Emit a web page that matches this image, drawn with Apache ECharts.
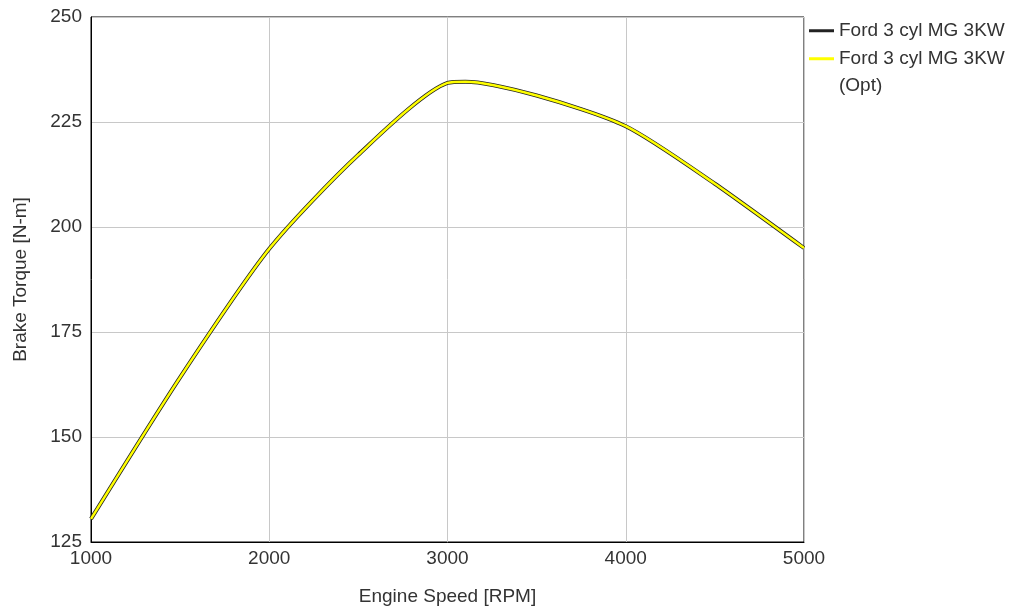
<!DOCTYPE html>
<html>
<head>
<meta charset="utf-8">
<script src="https://cdn.jsdelivr.net/npm/echarts@6/dist/echarts.min.js"></script>
<style>
  html, body { margin: 0; padding: 0; background: #fff; }
  #main { width: 1014px; height: 608px; }
</style>
</head>
<body>
<div id="main"></div>
<script>
// engine speed [RPM] and brake torque [N-m]
var speeds = [1000, 1500, 2000, 2500, 3000, 3100, 3500, 4000, 4500, 5000];
var torque = [130.5, 164.2, 194.8, 217.2, 234.3, 234.6, 231.3, 224.0, 210.3, 195.0];
var torqueOpt = [130.5, 164.2, 194.8, 217.2, 234.3, 234.6, 231.3, 224.0, 210.3, 195.0];

var seriesNames = ['Ford 3 cyl MG 3KW', 'Ford 3 cyl MG 3KW (Opt)'];

function pairs(xs, ys) {
  var out = [];
  for (var i = 0; i < xs.length; i++) out.push([xs[i], ys[i]]);
  return out;
}

var font = '"Liberation Sans", Arial, sans-serif';

var option = {
  animation: false,
  backgroundColor: '#fff',
  grid: {
    left: 91, top: 17, right: 210, bottom: 66,
    outerBoundsMode: 'none',
    show: true, borderColor: '#000', borderWidth: 1, backgroundColor: '#fff'
  },
  legend: {
    orient: 'vertical',
    left: 804,
    top: 12,
    itemWidth: 25,
    itemHeight: 3,
    itemGap: -27,
    icon: 'rect',
    textStyle: { fontFamily: font, fontSize: 19, color: '#333', lineHeight: 27.5 },
    data: seriesNames,
    formatter: function (name) {
      // blank first line so the icon sits level with the first text line
      return name === seriesNames[1] ? '\nFord 3 cyl MG 3KW\n(Opt)' : name;
    }
  },
  xAxis: {
    type: 'value',
    min: 1000, max: 5000, interval: 1000,
    name: 'Engine Speed [RPM]',
    nameLocation: 'middle',
    nameGap: 45,
    nameTextStyle: { fontFamily: font, fontSize: 19, color: '#333' },
    axisLine: { lineStyle: { color: '#000', width: 1 } },
    axisTick: { show: false },
    axisLabel: { fontFamily: font, fontSize: 19, color: '#333', margin: 7,
      formatter: function (v) { return String(v); } },
    splitLine: { show: true, lineStyle: { color: '#c8c8c8', width: 1 } }
  },
  yAxis: {
    type: 'value',
    min: 125, max: 250, interval: 25,
    name: 'Brake Torque [N-m]',
    nameLocation: 'middle',
    nameGap: 61,
    nameTextStyle: { fontFamily: font, fontSize: 19, color: '#333' },
    axisLine: { show: true, lineStyle: { color: '#000', width: 1 } },
    axisTick: { show: false },
    axisLabel: { fontFamily: font, fontSize: 19, color: '#333', margin: 9 },
    splitLine: { show: true, lineStyle: { color: '#c8c8c8', width: 1 } }
  },
  series: [
    {
      name: seriesNames[0],
      type: 'line',
      data: pairs(speeds, torque),
      smooth: 0.25,
      showSymbol: false,
      color: '#222',
      lineStyle: { color: '#222', width: 4 }
    },
    {
      name: seriesNames[1],
      type: 'line',
      data: pairs(speeds, torqueOpt),
      smooth: 0.25,
      showSymbol: false,
      color: '#ffff00',
      lineStyle: { color: '#ffff00', width: 2.5 }
    }
  ]
};

var myChart = echarts.init(document.getElementById('main'));
myChart.setOption(option);
</script>
</body>
</html>
